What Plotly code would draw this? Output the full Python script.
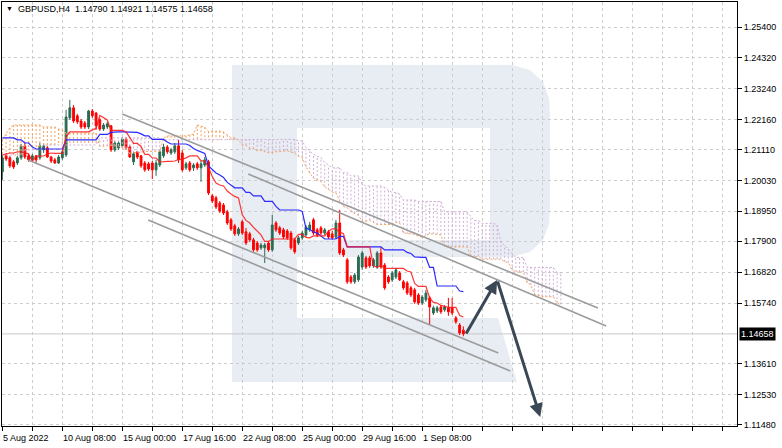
import plotly.graph_objects as go
import numpy as np

# ---------------- data ----------------
chart_title = "GBPUSD,H4  1.14790 1.14921 1.14575 1.14658"
last_price = 1.14658

price_ticks = [1.25400, 1.24320, 1.23240, 1.22160, 1.21110, 1.20030, 1.18950,
               1.17900, 1.16820, 1.15740, 1.13610, 1.12530, 1.11480]
date_tick_bars = [0, 16, 32, 48, 64, 80, 96, 112]
date_labels = ["5 Aug 2022", "10 Aug 08:00", "15 Aug 00:00", "17 Aug 16:00",
               "22 Aug 08:00", "25 Aug 00:00", "29 Aug 16:00", "1 Sep 08:00"]

opens = [
    1.2033, 1.2089, 1.2082, 1.2068, 1.2064, 1.2082, 1.2124, 1.2089, 1.2075, 1.2089,
    1.2082, 1.2110, 1.2117, 1.2085, 1.2075, 1.2064, 1.2082, 1.2092, 1.2222, 1.2257,
    1.2229, 1.2211, 1.2204, 1.2190, 1.2246, 1.2239, 1.2215, 1.2183, 1.2190, 1.2194,
    1.2110, 1.2117, 1.2124, 1.2148, 1.2120, 1.2068, 1.2103, 1.2089, 1.2064, 1.2061,
    1.2064, 1.2040, 1.2057, 1.2089, 1.2120, 1.2099, 1.2103, 1.2124, 1.2099, 1.2047,
    1.2064, 1.2047, 1.2061, 1.2047, 1.2057, 1.2068, 1.1949, 1.1942, 1.1924, 1.1917,
    1.1893, 1.1865, 1.1844, 1.1816, 1.1858, 1.1823, 1.1816, 1.1795, 1.1784, 1.1767,
    1.1767, 1.1784, 1.1760, 1.1854, 1.1837, 1.1830, 1.1826, 1.1819, 1.1795, 1.1784,
    1.1802, 1.1812, 1.1830, 1.1865, 1.1830, 1.1837, 1.1819, 1.1823, 1.1816, 1.1805,
    1.1854, 1.1760, 1.1725, 1.1665, 1.1648, 1.1655, 1.1700, 1.1732, 1.1732, 1.1704,
    1.1700, 1.1749, 1.1707, 1.1665, 1.1655, 1.1665, 1.1679, 1.1648, 1.1644, 1.1627,
    1.1620, 1.1602, 1.1574, 1.1585, 1.1592, 1.1539, 1.1546, 1.1560, 1.1550, 1.1557,
    1.1557, 1.1522, 1.1497, 1.14790]

highs = [
    1.2092, 1.2099, 1.2089, 1.2075, 1.2089, 1.2131, 1.2134, 1.2096, 1.2096, 1.2092,
    1.2134, 1.2131, 1.2124, 1.2089, 1.2082, 1.2092, 1.2110, 1.2250, 1.2285, 1.2267,
    1.2236, 1.2218, 1.2211, 1.2250, 1.2253, 1.2243, 1.2222, 1.2204, 1.2208, 1.2197,
    1.2141, 1.2141, 1.2155, 1.2155, 1.2127, 1.2103, 1.2106, 1.2092, 1.2071, 1.2068,
    1.2071, 1.2075, 1.2110, 1.2131, 1.2127, 1.2117, 1.2134, 1.2145, 1.2110, 1.2068,
    1.2071, 1.2064, 1.2068, 1.2071, 1.2085, 1.2075, 1.1956, 1.1949, 1.1931, 1.1924,
    1.1900, 1.1872, 1.1851, 1.1840, 1.1865, 1.1837, 1.1823, 1.1802, 1.1791, 1.1784,
    1.1784, 1.1791, 1.1882, 1.1861, 1.1844, 1.1837, 1.1833, 1.1826, 1.1802, 1.1809,
    1.1826, 1.1847, 1.1858, 1.1872, 1.1837, 1.1844, 1.1837, 1.1830, 1.1826, 1.1865,
    1.1900, 1.1767, 1.1732, 1.1672, 1.1679, 1.1742, 1.1756, 1.1739, 1.1739, 1.1732,
    1.1756, 1.1770, 1.1714, 1.1672, 1.1686, 1.1697, 1.1686, 1.1655, 1.1651, 1.1634,
    1.1627, 1.1609, 1.1602, 1.1620, 1.1599, 1.1564, 1.1564, 1.1567, 1.1567, 1.1592,
    1.1592, 1.1529, 1.1504, 1.14921]

lows = [
    1.2005, 1.2071, 1.2047, 1.2043, 1.2057, 1.2075, 1.2078, 1.2068, 1.2068, 1.2064,
    1.2075, 1.2099, 1.2082, 1.2064, 1.2061, 1.2061, 1.2075, 1.2085, 1.2215, 1.2204,
    1.2201, 1.2183, 1.2183, 1.2183, 1.2222, 1.2180, 1.2176, 1.2176, 1.2183, 1.2103,
    1.2103, 1.2110, 1.2117, 1.2110, 1.2082, 1.2057, 1.2078, 1.2047, 1.2033, 1.2036,
    1.2008, 1.2019, 1.2050, 1.2082, 1.2096, 1.2092, 1.2096, 1.2064, 1.2033, 1.2040,
    1.2033, 1.2036, 1.2040, 1.1998, 1.2050, 1.1952, 1.1924, 1.1903, 1.1889, 1.1882,
    1.1847, 1.1826, 1.1809, 1.1809, 1.1812, 1.1777, 1.1788, 1.1753, 1.1753, 1.1760,
    1.1714, 1.1753, 1.1753, 1.1823, 1.1812, 1.1798, 1.1795, 1.1760, 1.1746, 1.1777,
    1.1795, 1.1805, 1.1823, 1.1812, 1.1805, 1.1812, 1.1812, 1.1798, 1.1795, 1.1798,
    1.1742, 1.1735, 1.1641, 1.1641, 1.1641, 1.1648, 1.1690, 1.1693, 1.1697, 1.1697,
    1.1693, 1.1693, 1.1620, 1.1641, 1.1648, 1.1658, 1.1651, 1.1620, 1.1602, 1.1595,
    1.1571, 1.1567, 1.1567, 1.1578, 1.1497, 1.1532, 1.1539, 1.1536, 1.1543, 1.1529,
    1.1532, 1.1501, 1.1462, 1.14575]

closes = [
    1.2082, 1.2078, 1.2054, 1.2050, 1.2082, 1.2124, 1.2085, 1.2075, 1.2089, 1.2075,
    1.2124, 1.2124, 1.2085, 1.2071, 1.2064, 1.2085, 1.2103, 1.2225, 1.2257, 1.2211,
    1.2208, 1.2190, 1.2190, 1.2246, 1.2229, 1.2194, 1.2183, 1.2197, 1.2201, 1.2110,
    1.2134, 1.2134, 1.2148, 1.2117, 1.2085, 1.2096, 1.2085, 1.2054, 1.2040, 1.2043,
    1.2040, 1.2064, 1.2103, 1.2120, 1.2103, 1.2110, 1.2124, 1.2075, 1.2040, 1.2061,
    1.2040, 1.2057, 1.2047, 1.2061, 1.2075, 1.1959, 1.1931, 1.1910, 1.1896, 1.1889,
    1.1854, 1.1833, 1.1816, 1.1833, 1.1819, 1.1784, 1.1795, 1.1760, 1.1760, 1.1777,
    1.1777, 1.1760, 1.1847, 1.1830, 1.1819, 1.1805, 1.1802, 1.1767, 1.1753, 1.1802,
    1.1819, 1.1840, 1.1847, 1.1819, 1.1812, 1.1819, 1.1830, 1.1805, 1.1802, 1.1854,
    1.1749, 1.1742, 1.1648, 1.1648, 1.1672, 1.1735, 1.1749, 1.1700, 1.1704, 1.1725,
    1.1749, 1.1700, 1.1627, 1.1648, 1.1679, 1.1690, 1.1655, 1.1627, 1.1609, 1.1602,
    1.1578, 1.1574, 1.1595, 1.1609, 1.1560, 1.1557, 1.1557, 1.1543, 1.1560, 1.1543,
    1.1539, 1.1508, 1.1469, 1.14658]

tenkan_early = [1.2092, 1.2096, 1.2099, 1.2099, 1.2103, 1.2103, 1.2099, 1.2096]
kijun_early = [1.2152, 1.2152, 1.2152, 1.2152, 1.2145, 1.2145, 1.2134, 1.2134, 1.2120,
               1.2113, 1.2113, 1.2113, 1.2113, 1.2113, 1.2113, 1.2113, 1.2113,
               1.2145, 1.2145, 1.2145, 1.2145, 1.2145, 1.2145, 1.2145, 1.2145]
span_a_early = [1.2145, 1.2166, 1.2187, 1.2197, 1.2197, 1.2197, 1.2197, 1.2197, 1.2197,
                1.2197, 1.2197, 1.2190, 1.2190, 1.2190, 1.2190, 1.2183, 1.2180,
                1.2169, 1.2169, 1.2169, 1.2169, 1.2169, 1.2169, 1.2169, 1.2169, 1.2169]
span_b_early = [
    1.2092, 1.2092, 1.2092, 1.2092, 1.2092, 1.2092, 1.2110, 1.2110, 1.2110, 1.2110,
    1.2110, 1.2127, 1.2127, 1.2127, 1.2127, 1.2127, 1.2127, 1.2127, 1.2127, 1.2127,
    1.2127, 1.2127, 1.2127, 1.2127, 1.2127, 1.2127, 1.2152, 1.2152, 1.2152, 1.2152,
    1.2152, 1.2152, 1.2152, 1.2152, 1.2152, 1.2152, 1.2152, 1.2152, 1.2152, 1.2152,
    1.2152, 1.2152, 1.2152, 1.2145, 1.2145, 1.2145, 1.2145, 1.2145, 1.2145, 1.2145,
    1.2145, 1.2145, 1.2145, 1.2145, 1.2145, 1.2145, 1.2145, 1.2145, 1.2145, 1.2145,
    1.2145, 1.2145, 1.2145, 1.2145, 1.2145, 1.2145, 1.2145, 1.2145, 1.2145, 1.2145,
    1.2145, 1.2145, 1.2145, 1.2145, 1.2145, 1.2145, 1.2145]

# drawn channel lines (bar index, price) and forecast arrows
channel_lines = [
    ([32.0, 158.9], [1.22355, 1.15565]),
    ([65.6, 161.1], [1.20255, 1.14935]),
    ([6.9, 132.3], [1.20745, 1.13990]),
    ([38.9, 135.5], [1.18645, 1.13360]),
]
forecast_x = [123.5, 132.0, 143.5]
forecast_y = [1.14620, 1.16545, 1.11750]

# ---------------- indicator (Ichimoku 9/26/52) ----------------
H = np.array(highs)
L = np.array(lows)
n = len(closes)
bars = list(range(n))
tenkan = list(tenkan_early) + [(H[i-8:i+1].max() + L[i-8:i+1].min()) / 2 for i in range(8, n)]
kijun = list(kijun_early) + [(H[i-25:i+1].max() + L[i-25:i+1].min()) / 2 for i in range(25, n)]
span_a = list(span_a_early) + [(tenkan[i-26] + kijun[i-26]) / 2 for i in range(26, n + 26)]
span_b = list(span_b_early) + [(H[i-77:i-25].max() + L[i-77:i-25].min()) / 2 for i in range(77, n + 26)]
cloud_x = list(range(n + 26))

# ---------------- figure ----------------
W, Hh = 782, 448
ML, MR, MT, MB = 2, 45, 2, 22
PW, PH = W - ML - MR, Hh - MT - MB
FONT = "Liberation Sans, Arial, sans-serif"
BULL = "#2b6b52"
BEAR = "#ff0000"
SANDY = "#f4a460"
THISTLE = "#cfaed6"

fig = go.Figure()

# cloud hatching
ux, uy, dx, dy = [], [], [], []
for i, (a, b) in enumerate(zip(span_a, span_b)):
    if a >= b:
        ux += [i, i, None]; uy += [a, b, None]
    else:
        dx += [i, i, None]; dy += [a, b, None]
fig.add_trace(go.Scatter(x=ux, y=uy, mode="lines", line=dict(color=SANDY, width=1, dash="2px,2px"),
                         hoverinfo="skip"))
fig.add_trace(go.Scatter(x=dx, y=dy, mode="lines", line=dict(color=THISTLE, width=1, dash="2px,2px"),
                         hoverinfo="skip"))
fig.add_trace(go.Scatter(x=cloud_x, y=span_a, mode="lines", line=dict(color=SANDY, width=1, dash="2px,2px"),
                         hoverinfo="skip"))
fig.add_trace(go.Scatter(x=cloud_x, y=span_b, mode="lines", line=dict(color=THISTLE, width=1, dash="2px,2px"),
                         hoverinfo="skip"))

# kijun / tenkan
fig.add_trace(go.Scatter(x=bars, y=kijun, mode="lines", line=dict(color="#2a2aff", width=1.2), hoverinfo="skip"))
fig.add_trace(go.Scatter(x=bars, y=tenkan, mode="lines", line=dict(color="rgba(255,20,20,0.85)", width=1.2),
                         hoverinfo="skip"))

# candles
fig.add_trace(go.Candlestick(
    x=bars, open=opens, high=highs, low=lows, close=closes,
    increasing=dict(line=dict(color=BULL, width=1), fillcolor=BULL),
    decreasing=dict(line=dict(color=BEAR, width=1), fillcolor=BEAR),
    whiskerwidth=0, hoverinfo="skip"))

# channel lines
for cx, cy in channel_lines:
    fig.add_trace(go.Scatter(x=cx, y=cy, mode="lines", line=dict(color="#9c9c9c", width=1.6),
                             hoverinfo="skip"))


def paper(xp, yp):
    return (xp - ML) / PW, (MT + PH - yp) / PH


def path(points):
    s = ""
    for k, (xp, yp) in enumerate(points):
        px_, py_ = paper(xp, yp)
        s += ("M" if k == 0 else "L") + f"{px_:.5f},{py_:.5f} "
    return s + "Z"


WM = "#e8ecf3"
shapes = []
# watermark "R"
for pts in [
    [(232, 65), (297, 65), (297, 382), (232, 382)],
    [(297, 65), (490, 65), (490, 128), (297, 128)],
    [(490, 65), (512, 65), (530, 70), (543, 82), (549, 98), (550, 115), (550, 207),
     (549, 224), (543, 240), (530, 252), (512, 257), (490, 257)],
    [(297, 240), (490, 240), (490, 257), (297, 257)],
    [(297, 318), (498, 318), (517, 382), (297, 382)],
]:
    shapes.append(dict(type="path", xref="paper", yref="paper", path=path(pts),
                       fillcolor=WM, line=dict(width=0), layer="below"))
# bid line
shapes.append(dict(type="line", xref="paper", yref="y", x0=0, x1=1, y0=last_price, y1=last_price,
                   line=dict(color="#c8c8c8", width=1), layer="below"))

annotations = []
# forecast arrows
for k in range(len(forecast_x) - 1):
    annotations.append(dict(x=forecast_x[k+1], y=forecast_y[k+1], ax=forecast_x[k], ay=forecast_y[k],
                            xref="x", yref="y", axref="x", ayref="y", text="", showarrow=True,
                            arrowhead=2, arrowsize=0.9, arrowwidth=3, arrowcolor="#3a4754"))
# date labels (left aligned at tick)
for b, lab in zip(date_tick_bars, date_labels):
    annotations.append(dict(x=b, y=-(431 - (MT + PH)) / PH, xref="x", yref="paper", text=lab,
                            showarrow=False, xanchor="left", yanchor="top", xshift=-1,
                            font=dict(family=FONT, size=9, color="#000")))
# title
tx, ty = paper(4, 9)
annotations.append(dict(x=tx, y=ty, xref="paper", yref="paper", text="▼", showarrow=False,
                        xanchor="left", yanchor="middle", font=dict(family=FONT, size=7, color="#000")))
tx, ty = paper(16, 9)
annotations.append(dict(x=tx, y=ty, xref="paper", yref="paper", text=chart_title, showarrow=False,
                        xanchor="left", yanchor="middle", font=dict(family=FONT, size=9, color="#000")))
# current price box
annotations.append(dict(x=1, y=last_price, xref="paper", yref="y", text=f"{last_price:.5f}",
                        showarrow=False, xanchor="left", yanchor="middle", xshift=2,
                        bgcolor="#000000", borderpad=1,
                        font=dict(family=FONT, size=9, color="#ffffff")))

fig.update_layout(
    width=W, height=Hh, margin=dict(l=ML, r=MR, t=MT, b=MB),
    paper_bgcolor="white", plot_bgcolor="rgba(0,0,0,0)",
    showlegend=False, shapes=shapes, annotations=annotations, hovermode=False,
    xaxis=dict(range=[-0.1, 196], tickvals=list(range(0, 197, 8)), ticktext=[""] * 25,
               ticks="outside", ticklen=4, tickcolor="#000", showgrid=True, gridcolor="#cdcdcd",
               griddash="3px,3px", gridwidth=1, zeroline=False, showline=True, linecolor="#000",
               linewidth=1, mirror=True, rangeslider=dict(visible=False), fixedrange=True),
    yaxis=dict(range=[1.11435, 1.26275], side="right", tickvals=price_ticks,
               ticktext=[f"{v:.5f}" for v in price_ticks], ticks="outside", ticklen=4,
               tickcolor="#000", showgrid=True, gridcolor="#cdcdcd", griddash="3px,3px",
               zeroline=False, showline=True, linecolor="#000", linewidth=1, mirror=True,
               tickfont=dict(family=FONT, size=9, color="#000"), fixedrange=True),
)

fig.write_html("out.html", config={"staticPlot": True},
               post_script="document.body.style.margin='0';document.body.style.padding='0';"
                           "document.documentElement.style.overflow='hidden';")
